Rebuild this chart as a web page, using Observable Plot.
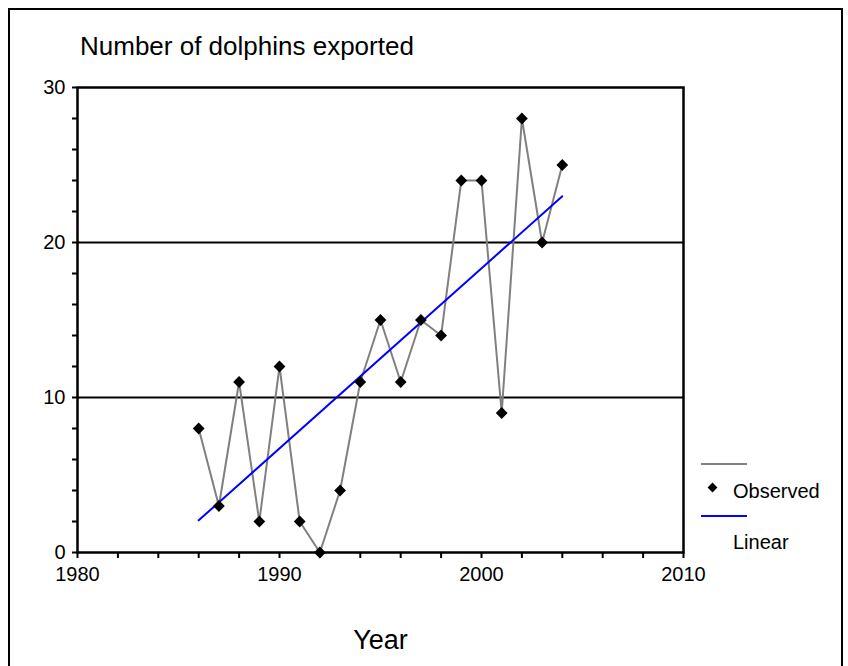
<!DOCTYPE html>
<html>
<head>
<meta charset="utf-8">
<script src="https://cdn.jsdelivr.net/npm/d3@7"></script>
<script src="https://cdn.jsdelivr.net/npm/@observablehq/plot@0.6"></script>
<style>
  html, body { margin: 0; padding: 0; background: #fff; overflow: hidden; }
  #wrap { position: relative; width: 848px; height: 666px; font-family: "Liberation Sans", Arial, sans-serif; color: #000; }
  #border { position: absolute; left: 8px; top: 8px; width: 835px; height: 700px; border: 2px solid #000; box-sizing: border-box; }
  #chart { position: absolute; left: 0; top: 0; }
  #chart svg text { font-size: 20px !important; fill: #000; }
  .lbl { position: absolute; white-space: nowrap; line-height: 1; }
  .swatch { position: absolute; height: 2px; }
  .diam { position: absolute; width: 7px; height: 7px; background: #000; transform: rotate(45deg); }
</style>
</head>
<body>
<div id="wrap">
  <div id="border"></div>
  <div id="chart"></div>
  <div class="lbl" id="title" style="left:80px; top:33px; font-size:26px;"></div>
  <div class="lbl" id="xlabel" style="left:0; width:761px; text-align:center; top:627px; font-size:27px;"></div>
  <div id="legend"></div>
</div>
<script>
// ---- data ----
const years = [1986, 1987, 1988, 1989, 1990, 1991, 1992, 1993, 1994, 1995, 1996, 1997, 1998, 1999, 2000, 2001, 2002, 2003, 2004];
const dolphins = [8, 3, 11, 2, 12, 2, 0, 4, 11, 15, 11, 15, 14, 24, 24, 9, 28, 20, 25];
const xTicks = [1980, 1990, 2000, 2010];
const yTicks = [0, 10, 20, 30];
const titleText = "Number of dolphins exported";
const xTitle = "Year";
const legendLabels = ["Observed", "Linear"];

const data = years.map((y, i) => ({year: y, value: dolphins[i]}));

const W = 848, H = 666;
const chart = Plot.plot({
  width: W,
  height: H,
  marginLeft: 77,
  marginRight: 165,
  marginTop: 87,
  marginBottom: 114,
  style: {fontFamily: '"Liberation Sans", Arial, sans-serif', fontSize: "20px", color: "#000", background: "transparent"},
  x: {domain: [1980, 2010]},
  y: {domain: [0, 30]},
  marks: [
    Plot.ruleY([10, 20], {stroke: "#000", strokeWidth: 2}),
    Plot.line(data, {x: "year", y: "value", stroke: "#808080", strokeWidth: 2}),
    Plot.linearRegressionY(data, {x: "year", y: "value", stroke: "#0000ff", strokeWidth: 2, ci: 0}),
    Plot.dot(data, {x: "year", y: "value", symbol: "diamond2", r: 5.3, fill: "#000", stroke: "none"}),
    Plot.frame({stroke: "#000", strokeWidth: 2.5}),
    Plot.axisX({ticks: d3.range(1980, 2011, 2), tickSize: 6, tickPadding: 8, strokeWidth: 2, strokeOpacity: 1, label: null,
      tickFormat: d => xTicks.includes(d) ? String(d) : "", fontSize: 20}),
    Plot.axisY({ticks: d3.range(0, 31, 2), tickSize: 5, tickPadding: 7, strokeWidth: 2, strokeOpacity: 1, label: null,
      tickFormat: d => yTicks.includes(d) ? String(d) : "", fontSize: 20})
  ]
});
document.getElementById("chart").appendChild(chart);
document.getElementById("title").textContent = titleText;
document.getElementById("xlabel").textContent = xTitle;

// legend (HTML)
const lg = document.getElementById("legend");
lg.innerHTML = `
  <div class="swatch" style="left:701px; top:463px; width:46px; background:#808080;"></div>
  <div class="diam" style="left:709px; top:484px;"></div>
  <div class="lbl" style="left:733px; top:481px; font-size:20px;">${legendLabels[0]}</div>
  <div class="swatch" style="left:701px; top:515px; width:46px; background:#0000ff;"></div>
  <div class="lbl" style="left:733px; top:532px; font-size:20px;">${legendLabels[1]}</div>
`;
</script>
</body>
</html>
